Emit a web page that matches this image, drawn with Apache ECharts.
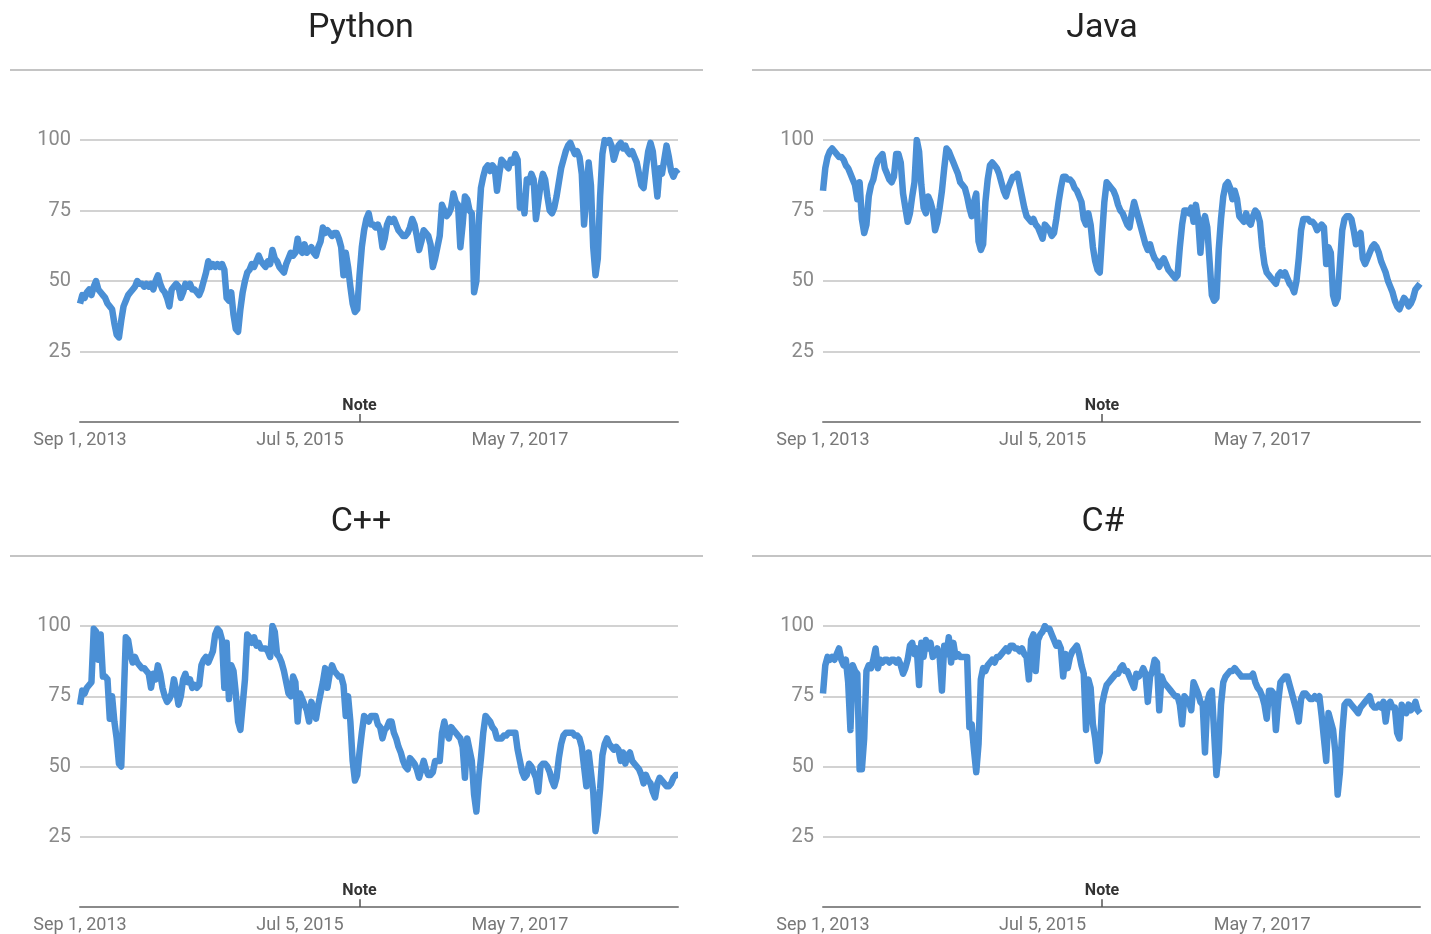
<!DOCTYPE html>
<html><head><meta charset="utf-8">
<script src="https://cdn.jsdelivr.net/npm/echarts@6/dist/echarts.min.js"></script>
<style>html,body{margin:0;padding:0;background:#fff}#c{width:1431px;height:934px}</style>
</head><body><div id="c"></div>
<script>
// ---- data ----
const startDateUTC = Date.UTC(2013, 8, 1);   // Sep 1, 2013, weekly points
const weekCount = 262;
const xTickLabels = ['Sep 1, 2013', 'Jul 5, 2015', 'May 7, 2017'];
const noteLabel = 'Note';
const noteDate = 'Jan 3, 2016';
const yTicks = [0, 25, 50, 75, 100];
const languages = ['Python', 'Java', 'C++', 'C#'];

const python = [
42,45,44,46,47,45,48,50,47,46,
45,44,42,41,40,35,31,30,36,41,
43,45,46,47,48,50,49,49,48,49,
48,49,47,50,52,49,47,46,44,41,
47,48,49,48,44,46,49,48,49,47,
47,46,45,47,50,53,57,55,56,55,
56,55,56,54,44,43,46,38,33,32,
40,46,50,53,54,56,55,57,59,57,
56,55,57,56,61,58,57,55,54,53,
56,58,60,59,60,65,61,60,63,60,
61,62,60,59,62,64,69,67,68,67,
66,67,67,65,62,52,60,55,48,42,
39,40,52,62,68,72,74,70,70,69,
70,68,62,65,70,72,71,72,70,68,
67,66,66,67,69,72,70,66,61,64,
68,67,66,63,55,58,62,66,77,75,
73,74,76,81,78,77,62,70,80,79,
75,74,46,50,70,83,87,90,91,89,
91,90,82,88,93,92,91,90,93,92,
95,93,76,80,74,86,85,88,86,72,
78,84,88,86,80,75,74,76,80,85,
90,93,96,98,99,97,95,96,94,88,
70,80,92,84,62,52,58,80,95,100,
99,100,98,93,96,98,99,97,98,96,
95,96,94,92,88,84,83,90,96,99,
96,88,80,90,88,93,98,94,89,87,
89,88];

const java = [
82,90,94,96,97,96,95,94,94,93,
91,90,88,86,84,79,85,72,67,70,
80,84,86,90,93,94,95,90,88,86,
85,87,95,95,92,81,76,71,74,80,
85,100,96,84,76,74,80,78,75,68,
71,76,82,90,97,96,94,92,90,88,
85,84,83,80,76,73,78,81,64,61,
63,78,86,91,92,91,90,88,85,82,
80,83,85,87,87,88,84,80,76,73,
72,71,72,70,69,67,65,70,69,68,
66,67,72,78,83,87,87,86,86,85,
83,82,80,78,72,70,74,70,62,57,
54,53,66,78,85,84,83,82,80,77,
75,74,72,70,69,74,78,75,72,69,
66,63,61,63,60,58,57,55,57,58,
56,54,53,52,51,52,62,70,75,75,
74,76,71,77,72,60,70,73,69,57,
45,43,44,61,72,80,84,85,83,79,
82,79,73,72,71,74,71,70,73,75,
74,71,62,56,53,52,51,50,49,52,
53,52,53,51,49,48,46,50,58,68,
72,72,72,71,71,70,68,69,70,69,
56,62,60,45,42,44,56,68,72,73,
73,72,68,63,66,67,58,56,58,60,
62,63,62,60,57,55,53,50,48,46,
43,41,40,42,44,43,41,42,44,47,
48,49];

const cpp = [
72,77,76,78,79,80,99,98,88,97,
82,82,81,67,75,66,60,51,50,72,
96,95,90,87,89,87,86,85,85,84,
83,78,83,81,86,83,78,75,73,74,
76,81,77,72,75,81,83,80,81,78,
79,78,79,86,88,89,87,89,91,97,
99,98,95,78,94,74,86,84,76,66,
63,72,81,97,96,94,96,93,94,92,
92,92,91,89,100,98,90,89,87,84,
80,76,75,82,80,66,76,74,72,70,
66,73,70,67,72,76,80,85,78,83,
86,84,83,82,82,79,68,75,66,52,
45,47,55,62,68,67,66,68,68,68,
65,64,60,63,64,66,66,62,60,57,
55,52,50,49,53,52,51,49,46,49,
52,49,47,47,48,52,52,52,62,66,
62,60,64,63,62,61,60,57,46,60,
56,52,40,34,45,53,62,68,67,66,
64,63,60,60,60,61,61,62,62,62,
62,56,52,48,46,47,51,50,48,46,
41,50,51,51,50,48,45,43,46,53,
58,61,62,62,62,62,61,61,60,57,
50,43,55,48,41,27,33,42,54,58,
60,58,57,56,57,56,52,55,51,54,
55,52,51,50,49,47,44,47,45,44,
41,39,44,46,45,44,43,43,44,46,
47,47];

const csharp = [
76,86,89,88,89,88,90,92,88,86,
88,80,63,86,84,83,49,49,60,84,
86,85,88,92,85,88,87,88,88,87,
88,88,87,88,86,83,85,88,93,94,
90,92,79,94,89,95,92,94,89,90,
92,89,77,93,90,96,87,94,89,90,
89,89,89,89,64,65,56,48,58,81,
85,84,86,87,88,87,89,89,90,91,
92,91,93,93,92,92,91,92,90,89,
81,95,97,84,95,97,98,100,99,99,
97,95,93,94,92,82,90,85,89,91,
92,93,90,86,83,63,81,78,65,60,
52,55,72,76,79,80,81,82,83,83,
85,86,84,84,82,80,78,83,82,83,
85,83,73,82,84,88,87,70,82,80,
79,78,77,76,75,75,72,65,75,74,
73,70,80,78,76,73,72,55,73,76,
77,62,47,55,72,80,82,83,84,84,
85,84,83,82,82,82,82,82,83,80,
78,77,75,72,67,77,77,76,63,73,
80,81,82,82,79,76,73,70,66,74,
76,76,75,74,74,75,74,75,68,60,
52,69,66,63,55,40,48,62,72,73,
73,72,71,70,69,71,72,73,74,75,
72,71,71,72,71,73,66,72,73,71,
71,62,60,72,70,69,72,70,71,73,
70,69];

const seriesData = [python, java, cpp, csharp];

// ---- categories (weekly dates) ----
const MONTHS = ['Jan','Feb','Mar','Apr','May','Jun','Jul','Aug','Sep','Oct','Nov','Dec'];
const weeks = [];
for (let i = 0; i < weekCount; i++) {
  const d = new Date(startDateUTC + i * 7 * 86400000);
  weeks.push(MONTHS[d.getUTCMonth()] + ' ' + d.getUTCDate() + ', ' + d.getUTCFullYear());
}

// ---- layout ----
const panels = [
  { left: 80,  top: 140, width: 598, titleX: 356,  titleY: 6 },
  { left: 823, top: 140, width: 597, titleX: 1097, titleY: 6 },
  { left: 80,  top: 626, width: 598, titleX: 356,  titleY: 500 },
  { left: 823, top: 626, width: 597, titleX: 1098, titleY: 500 }
];
const plotH = 282;
const FONT = 'Roboto';
const lineColor = '#4a8fd5';

const option = {
  animation: false,
  backgroundColor: '#ffffff',
  title: panels.map((p, i) => ({
    text: languages[i],
    left: p.titleX,
    top: p.titleY,
    textAlign: 'center',
    textStyle: { fontFamily: FONT, fontSize: 34, fontWeight: 'normal', color: '#222' }
  })),
  graphic: [
    { type: 'line', shape: { x1: 10, y1: 70, x2: 703, y2: 70 }, style: { stroke: '#c4c4c4', lineWidth: 2 } },
    { type: 'line', shape: { x1: 752, y1: 70, x2: 1431, y2: 70 }, style: { stroke: '#c4c4c4', lineWidth: 2 } },
    { type: 'line', shape: { x1: 10, y1: 556, x2: 703, y2: 556 }, style: { stroke: '#c4c4c4', lineWidth: 2 } },
    { type: 'line', shape: { x1: 752, y1: 556, x2: 1431, y2: 556 }, style: { stroke: '#c4c4c4', lineWidth: 2 } }
  ],
  grid: panels.map(p => ({ left: p.left, top: p.top, width: p.width, height: plotH, containLabel: false })),
  xAxis: panels.map((p, i) => ({
    type: 'category',
    gridIndex: i,
    data: weeks,
    boundaryGap: false,
    axisLine: { show: true, lineStyle: { color: '#8a8a8a', width: 2 } },
    axisTick: { show: false },
    splitLine: { show: false },
    axisLabel: {
      interval: (idx, val) => xTickLabels.includes(val),
      fontFamily: FONT, fontSize: 18, color: '#777', margin: 9
    }
  })),
  yAxis: panels.map((p, i) => ({
    type: 'value',
    gridIndex: i,
    min: yTicks[0], max: yTicks[yTicks.length - 1], interval: 25,
    axisLine: { show: false },
    axisTick: { show: false },
    splitLine: { show: true, lineStyle: { color: '#d2d2d2', width: 2 } },
    axisLabel: {
      formatter: v => (v === 0 ? '' : String(v)),
      fontFamily: FONT, fontSize: 20, color: '#8a8a8a', margin: 9
    }
  })),
  series: seriesData.map((d, i) => ({
    type: 'line',
    xAxisIndex: i, yAxisIndex: i,
    data: d,
    showSymbol: false,
    symbol: 'none',
    lineStyle: { color: lineColor, width: 6.5, join: 'round' },
    emphasis: { disabled: true },
    silent: true,
    markLine: {
      silent: true,
      symbol: 'none',
      lineStyle: { color: '#555', width: 1.5, type: 'solid' },
      label: { show: true, position: 'end', formatter: noteLabel, fontFamily: FONT, fontSize: 16, fontWeight: 'bold', color: '#333', distance: 0 },
      data: [[{ coord: [noteDate, 0] }, { coord: [noteDate, 2.8] }]]
    }
  }))
};

const chart = echarts.init(document.getElementById('c'), null, { renderer: 'canvas' });
chart.setOption(option);
</script>
</body></html>
